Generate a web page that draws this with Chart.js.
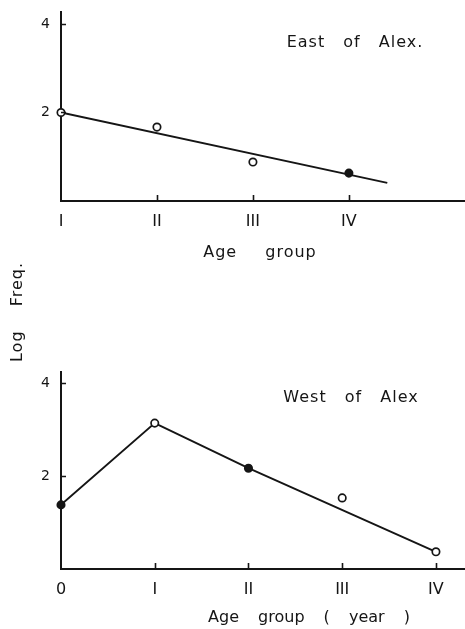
<!DOCTYPE html>
<html><head><meta charset="utf-8">
<script src="https://cdn.jsdelivr.net/npm/chart.js@4/dist/chart.umd.min.js"></script>
<style>
html,body{margin:0;padding:0;background:#fff;}
#wrap{position:relative;width:465px;height:629px;overflow:hidden;}
canvas{position:absolute;left:0;top:0;}
</style>
</head><body>
<div id="wrap"><canvas id="east" width="465" height="629"></canvas><canvas id="west" width="465" height="629"></canvas></div>
<script>
// ---- data ----
const eastCategories = ['I', 'II', 'III', 'IV'];
const eastObserved = [2.0, 1.67, 0.88, 0.63];
const eastSolid = [false, false, false, true];
const eastFitX = [0, 3.4];
const eastFitY = [2.0, 0.41];

const westCategories = ['0', 'I', 'II', 'III', 'IV'];
const westObserved = [1.38, 3.14, 2.17, 1.53, 0.37];
const westSolid = [true, false, true, false, false];
const westLineX = [0, 1, 2, 4];
const westLineY = [1.38, 3.14, 2.17, 0.37];

const yTickValues = [2, 4];

// ---- styling ----
const INK = '#151515';
const FONT = '"DejaVu Sans", sans-serif';

const textPlugin = {
  id: 'texts',
  afterDraw(chart, args, opts) {
    const ctx = chart.ctx;
    (opts.items || []).forEach(t => {
      ctx.save();
      ctx.fillStyle = INK;
      ctx.font = t.font;
      ctx.textAlign = 'center';
      ctx.textBaseline = 'middle';
      ctx.letterSpacing = t.ls || '0px';
      ctx.wordSpacing = t.ws || '0px';
      ctx.translate(t.x, t.y);
      if (t.rot) ctx.rotate(t.rot);
      ctx.fillText(t.text, 0, 0);
      ctx.restore();
    });
  }
};

const innerTicks = {
  id: 'innerTicks',
  afterDatasetsDraw(chart) {
    const ctx = chart.ctx, xs = chart.scales.x, ys = chart.scales.y;
    const a = chart.chartArea;
    ctx.save();
    ctx.strokeStyle = INK;
    ctx.lineWidth = 1.6;
    ctx.beginPath();
    yTickValues.forEach(v => {
      const py = Math.round(ys.getPixelForValue(v)) + 0.5;
      ctx.moveTo(a.left, py); ctx.lineTo(a.left + 5, py);
    });
    xs.ticks.forEach(t => {
      if (t.value === 0) return;
      const px = Math.round(xs.getPixelForValue(t.value)) + 0.5;
      ctx.moveTo(px, a.bottom); ctx.lineTo(px, a.bottom - 6);
    });
    ctx.stroke();
    ctx.restore();
  }
};

function makeChart(id, cats, observed, solid, lineX, lineY, xMax, yMax, padTop, padBottom, xAxisH, xLabelPad, texts) {
  return new Chart(document.getElementById(id), {
    type: 'scatter',
    data: {
      datasets: [
        {
          type: 'line',
          data: lineX.map((x, i) => ({ x, y: lineY[i] })),
          borderColor: INK,
          borderWidth: 1.9,
          pointRadius: 0,
          fill: false,
          tension: 0,
          order: 2
        },
        {
          data: observed.map((y, i) => ({ x: i, y })),
          pointRadius: 3.7,
          pointBorderWidth: 1.7,
          pointBorderColor: INK,
          pointBackgroundColor: solid.map(s => s ? INK : '#ffffff'),
          showLine: false,
          order: 1,
          clip: false
        }
      ]
    },
    options: {
      responsive: false,
      animation: false,
      devicePixelRatio: 1,
      events: [],
      layout: { autoPadding: false, padding: { top: padTop, bottom: padBottom, left: 0, right: 0 } },
      plugins: { legend: { display: false }, tooltip: { enabled: false }, texts: { items: texts } },
      scales: {
        x: {
          type: 'linear',
          min: 0,
          max: xMax,
          grid: { display: false, drawTicks: false },
          border: { display: true, color: INK, width: 2 },
          afterBuildTicks: s => { s.ticks = cats.map((c, i) => ({ value: i })); },
          afterFit: s => { s.height = xAxisH; s.paddingLeft = 0; s.paddingRight = 0; },
          ticks: {
            padding: xLabelPad,
            color: INK,
            font: { family: FONT, size: 16 },
            maxRotation: 0,
            autoSkip: false,
            callback: v => cats[v]
          }
        },
        y: {
          type: 'linear',
          min: 0,
          max: yMax,
          grid: { display: false, drawTicks: false },
          border: { display: true, color: INK, width: 2 },
          afterBuildTicks: s => { s.ticks = yTickValues.map(v => ({ value: v })); },
          afterFit: s => { s.width = 61; s.paddingTop = 0; s.paddingBottom = 0; },
          ticks: {
            padding: 11,
            color: INK,
            font: { family: FONT, size: 14 },
            callback: v => String(v)
          }
        }
      }
    },
    plugins: [innerTicks, textPlugin]
  });
}

makeChart('east', eastCategories, eastObserved, eastSolid, eastFitX, eastFitY,
  4.21, 4.27, 12, 339, 89, 11, [
    { text: 'East of Alex.', x: 355, y: 43, font: '16px ' + FONT, ls: '1px', ws: '12px' },
    { text: 'Age group', x: 260, y: 253, font: '16px ' + FONT, ls: '1px', ws: '22px' },
    { text: 'Log Freq.', x: 18, y: 312, rot: -Math.PI / 2, font: '16px ' + FONT, ls: '1px', ws: '18px' }
  ]);

makeChart('west', westCategories, westObserved, westSolid, westLineX, westLineY,
  4.31, 4.24, 372, 0, 60, 11, [
    { text: 'West of Alex', x: 351, y: 398, font: '16px ' + FONT, ls: '1px', ws: '12px' },
    { text: 'Age group ( year )', x: 309, y: 618, font: '16px ' + FONT, ls: '0px', ws: '14px' }
  ]);
</script>
</body></html>
